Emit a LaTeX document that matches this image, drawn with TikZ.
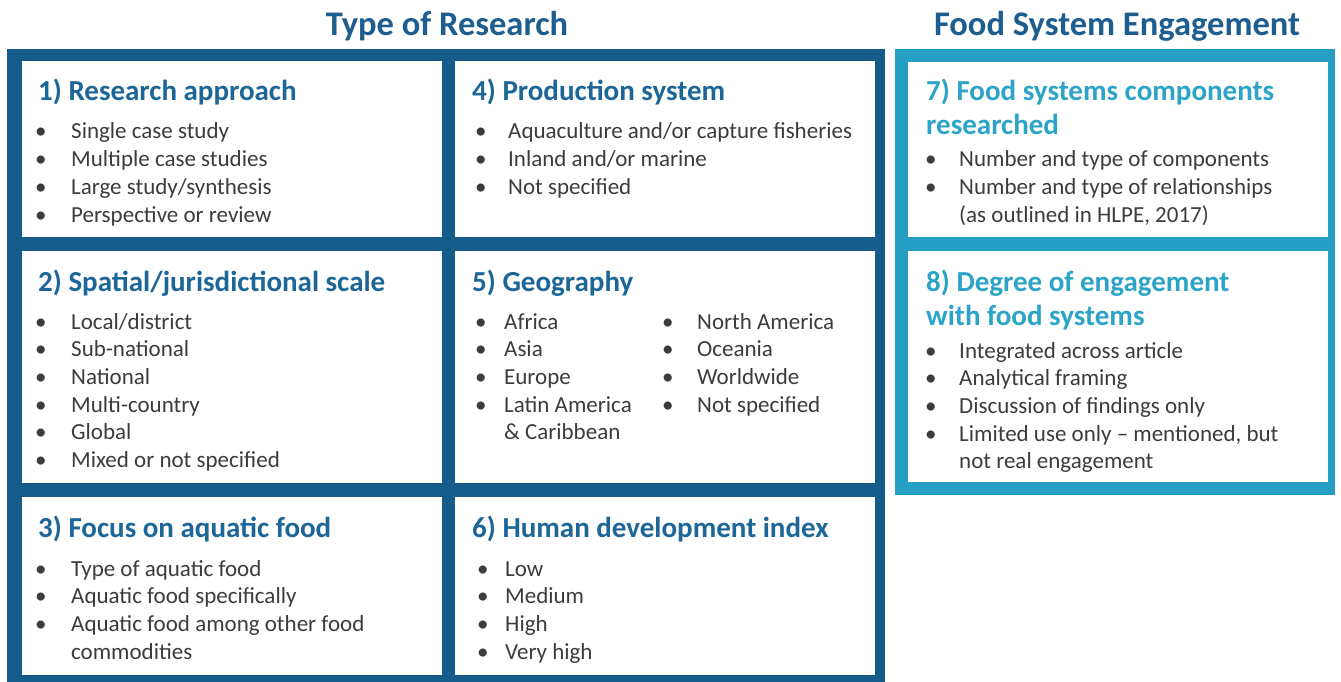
\documentclass[tikz,border=0pt]{standalone}
\usepackage{fontspec}
\setmainfont{Carlito}
\usetikzlibrary{positioning}
\definecolor{researchblue}{RGB}{22,92,138}
\definecolor{systemteal}{RGB}{36,158,194}
\definecolor{titleblue}{RGB}{30,94,143}
\definecolor{headblue}{RGB}{28,102,152}
\definecolor{headteal}{RGB}{44,164,200}
\definecolor{bodygray}{RGB}{60,60,60}
\newcommand{\itemrows}[2][36pt]{\begin{tabular}[t]{@{}p{#1}@{}l@{}}#2\end{tabular}}
\newcommand{\headrows}[1]{\begin{tabular}[t]{@{}l@{}}#1\end{tabular}}
\tikzset{
  cell/.style={fill=white, inner sep=0pt, anchor=north west},
  title/.style={anchor=base, inner sep=0pt, text=titleblue,
    font=\bfseries\fontsize{34.5}{40}\selectfont},
  heading/.style={anchor=base west, inner sep=0pt, text=#1,
    font=\bfseries\fontsize{29}{34}\selectfont},
  heading/.default=headblue,
  itemlist/.style={anchor=base west, inner sep=0pt, text=bodygray,
    font=\fontsize{23}{27.7}\selectfont}
}
\begin{document}
\begin{tikzpicture}[x=1pt,y=-1pt]
\useasboundingbox (0,0) rectangle (1341,682);
% titles
\node[title] (typetitle) at (447,36) {Type of Research};
\node[title] (systemtitle) at (1117,36) {Food System Engagement};
% panels
\fill[researchblue] (7,49) rectangle (885,682);
\fill[systemteal] (895,49) rectangle (1335,495);
% cells
\node[cell, minimum width=420pt, minimum height=176pt] (box1) at (22,61) {};
\node[cell, minimum width=420pt, minimum height=232pt] (box2) at (22,251) {};
\node[cell, minimum width=420pt, minimum height=178pt] (box3) at (22,497) {};
\node[cell, minimum width=420pt, minimum height=176pt] (box4) at (455,61) {};
\node[cell, minimum width=420pt, minimum height=232pt] (box5) at (455,251) {};
\node[cell, minimum width=420pt, minimum height=178pt] (box6) at (455,497) {};
\node[cell, minimum width=420pt, minimum height=175pt] (box7) at (908,62) {};
\node[cell, minimum width=420pt, minimum height=231pt] (box8) at (908,251) {};
% 1) research approach
\node[heading] (head1) at ([xshift=16pt,yshift=-40pt]box1.north west) {1) Research approach};
\node[itemlist] (list1) at ([xshift=13pt,yshift=-78pt]box1.north west) {\itemrows{%
  \textbullet & Single case study\\
  \textbullet & Multiple case studies\\
  \textbullet & Large study/synthesis\\
  \textbullet & Perspective or review}};
% 2) scale
\node[heading] (head2) at ([xshift=16pt,yshift=-40pt]box2.north west) {2) Spatial/jurisdictional scale};
\node[itemlist] (list2) at ([xshift=13pt,yshift=-78pt]box2.north west) {\itemrows{%
  \textbullet & Local/district\\
  \textbullet & Sub-national\\
  \textbullet & National\\
  \textbullet & Multi-country\\
  \textbullet & Global\\
  \textbullet & Mixed or not specified}};
% 3) aquatic food
\node[heading] (head3) at ([xshift=16pt,yshift=-40pt]box3.north west) {3) Focus on aquatic food};
\node[itemlist] (list3) at ([xshift=13pt,yshift=-79pt]box3.north west) {\itemrows{%
  \textbullet & Type of aquatic food\\
  \textbullet & Aquatic food specifically\\
  \textbullet & Aquatic food among other food\\
              & commodities}};
% 4) production system
\node[heading] (head4) at ([xshift=17pt,yshift=-40pt]box4.north west) {4) Production system};
\node[itemlist] (list4) at ([xshift=20pt,yshift=-78pt]box4.north west) {\itemrows[33pt]{%
  \textbullet & Aquaculture and/or capture fisheries\\
  \textbullet & Inland and/or marine\\
  \textbullet & Not specified}};
% 5) geography
\node[heading] (head5) at ([xshift=17pt,yshift=-40pt]box5.north west) {5) Geography};
\node[itemlist] (list5a) at ([xshift=20pt,yshift=-78pt]box5.north west) {\itemrows[29pt]{%
  \textbullet & Africa\\
  \textbullet & Asia\\
  \textbullet & Europe\\
  \textbullet & Latin America\\
              & \& Caribbean}};
\node[itemlist] (list5b) at ([xshift=207pt,yshift=-78pt]box5.north west) {\itemrows[35pt]{%
  \textbullet & North America\\
  \textbullet & Oceania\\
  \textbullet & Worldwide\\
  \textbullet & Not specified}};
% 6) human development index
\node[heading] (head6) at ([xshift=17pt,yshift=-40pt]box6.north west) {6) Human development index};
\node[itemlist] (list6) at ([xshift=22pt,yshift=-79pt]box6.north west) {\itemrows[28pt]{%
  \textbullet & Low\\
  \textbullet & Medium\\
  \textbullet & High\\
  \textbullet & Very high}};
% 7) components
\node[heading=headteal] (head7) at ([xshift=18pt,yshift=-39pt]box7.north west) {\headrows{7) Food systems components\\researched}};
\node[itemlist] (list7) at ([xshift=17pt,yshift=-105pt]box7.north west) {\itemrows[34pt]{%
  \textbullet & Number and type of components\\
  \textbullet & Number and type of relationships\\
              & (as outlined in HLPE, 2017)}};
% 8) degree of engagement
\node[heading=headteal] (head8) at ([xshift=18pt,yshift=-40pt]box8.north west) {\headrows{8) Degree of engagement\\with food systems}};
\node[itemlist] (list8) at ([xshift=17pt,yshift=-107pt]box8.north west) {\itemrows[34pt]{%
  \textbullet & Integrated across article\\
  \textbullet & Analytical framing\\
  \textbullet & Discussion of findings only\\
  \textbullet & Limited use only -- mentioned, but\\
              & not real engagement}};
\end{tikzpicture}
\end{document}
